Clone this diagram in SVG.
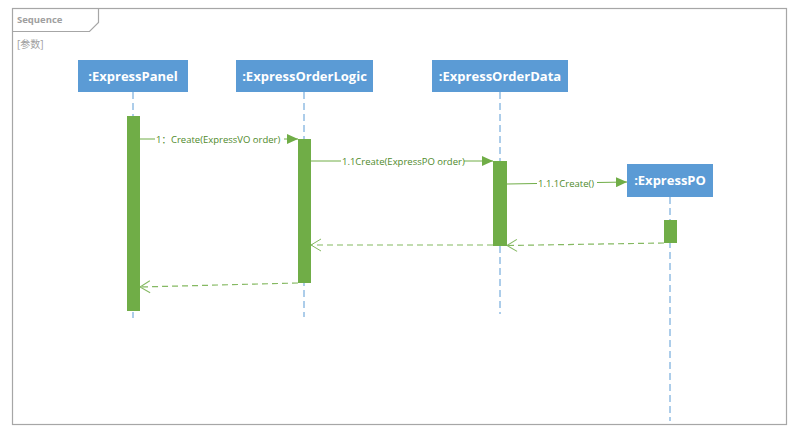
<svg xmlns="http://www.w3.org/2000/svg" width="797" height="437" viewBox="0 0 797 437">
  <style>
    .frame { fill: none; stroke: #a6a6a6; stroke-width: 1.2; }
    .head rect { fill: #5b9bd5; }
    .head text { fill: #ffffff; font-family: "Open Sans", "Noto Sans", sans-serif; font-weight: bold; font-size: 13px; text-anchor: middle; }
    .life { stroke: #5b9bd5; stroke-width: 1; stroke-dasharray: 7 4; fill: none; }
    .act { fill: #70ad47; }
    .msg { stroke: #70ad47; stroke-width: 1; fill: none; }
    .ret { stroke: #70ad47; stroke-width: 1.2; stroke-dasharray: 6 4; fill: none; opacity: 0.85; }
    .lbl { fill: #4f8a2b; font-family: "Open Sans", "Noto Sans CJK SC", sans-serif; font-size: 9.5px; }
    .lblbg { fill: #ffffff; }
    .gray { fill: #a0a0a0; font-family: "Open Sans", "Noto Sans CJK SC", sans-serif; font-size: 10px; }
  </style>
  <defs>
    <marker id="solid" markerWidth="12" markerHeight="10" refX="11" refY="5" orient="auto" markerUnits="userSpaceOnUse">
      <path d="M0,0 L11,5 L0,10 Z" fill="#70ad47"/>
    </marker>
    <marker id="open" markerWidth="14" markerHeight="14" refX="12" refY="7" orient="auto" markerUnits="userSpaceOnUse">
      <path d="M2,1 L12,7 L2,13" fill="none" stroke="#70ad47" stroke-width="1"/>
    </marker>
  </defs>

  <rect x="0" y="0" width="797" height="437" fill="#ffffff"/>

  <!-- frame and tab -->
  <g id="frame">
    <rect class="frame" x="12.5" y="8.5" width="774" height="416"/>
    <path class="frame" d="M12.5,31.5 H89.5 L98.5,22.5 V8.5"/>
    <text class="gray" x="17" y="23" style="font-weight:bold;font-size:9.5px">Sequence</text>
    <text class="gray" x="17" y="48">[参数]</text>
  </g>

  <!-- lifelines and activations -->
  <g id="panel">
    <line class="life" x1="133" y1="92" x2="133" y2="318"/>
    <g class="head"><rect x="78" y="60" width="110" height="32"/><text x="133" y="81">:ExpressPanel</text></g>
    <rect class="act" x="127" y="116" width="13" height="195"/>
  </g>
  <g id="logic">
    <line class="life" x1="304" y1="92" x2="304" y2="317"/>
    <g class="head"><rect x="236" y="60" width="137" height="32"/><text x="304.5" y="81">:ExpressOrderLogic</text></g>
    <rect class="act" x="298" y="139" width="13" height="144"/>
  </g>
  <g id="data">
    <line class="life" x1="500" y1="92" x2="500" y2="314"/>
    <g class="head"><rect x="432" y="60" width="136" height="32"/><text x="500" y="81">:ExpressOrderData</text></g>
    <rect class="act" x="493" y="161" width="14" height="85"/>
  </g>
  <g id="po">
    <line class="life" x1="670" y1="197" x2="670" y2="421"/>
    <g class="head"><rect x="627" y="164" width="86" height="33"/><text x="670" y="185">:ExpressPO</text></g>
    <rect class="act" x="664" y="220" width="13" height="23"/>
  </g>

  <!-- messages -->
  <g id="connectors">
    <line class="msg" x1="140" y1="139" x2="298" y2="139" marker-end="url(#solid)"/>
    <rect class="lblbg" x="155" y="133" width="129" height="12"/>
    <text class="lbl" x="156" y="142.5">1：Create(ExpressVO order)</text>

    <line class="msg" x1="311" y1="161" x2="493" y2="161" marker-end="url(#solid)"/>
    <rect class="lblbg" x="341" y="155" width="123" height="12"/>
    <text class="lbl" x="342" y="164.5">1.1Create(ExpressPO order)</text>

    <line class="msg" x1="507" y1="184" x2="627" y2="182" marker-end="url(#solid)"/>
    <rect class="lblbg" x="537" y="177" width="60" height="12"/>
    <text class="lbl" x="538" y="186.5">1.1.1Create()</text>

    <line class="ret" x1="664" y1="243" x2="507" y2="245.5" marker-end="url(#open)"/>
    <line class="ret" x1="493" y1="245" x2="311" y2="245" marker-end="url(#open)"/>
    <line class="ret" x1="298" y1="283" x2="140" y2="287" marker-end="url(#open)"/>
  </g>
</svg>
